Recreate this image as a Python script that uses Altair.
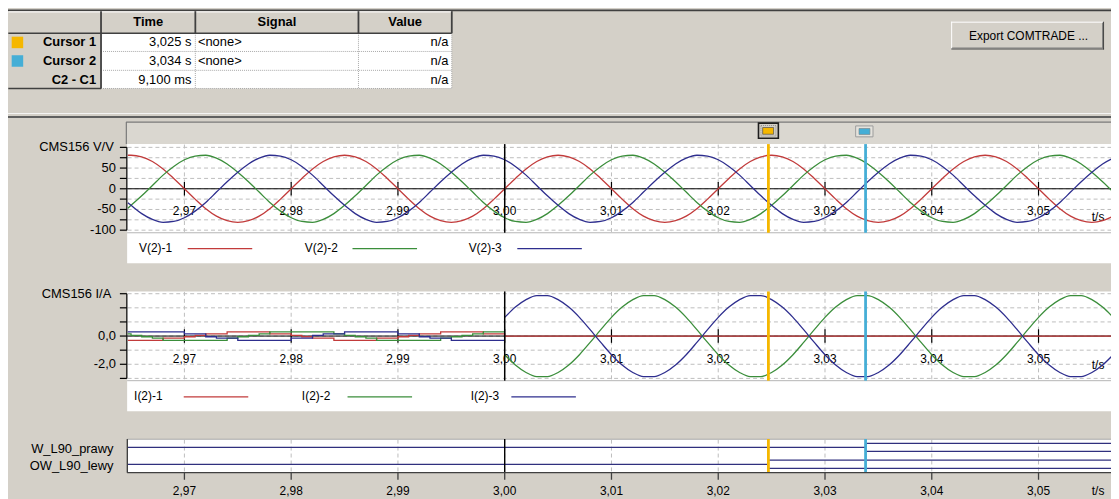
import altair as alt
import pandas as pd

# ------------------------------------------------------------------ data
ROW_NAMES = ["Cursor 1", "Cursor 2", "C2 - C1"]
COL_HEADERS = ["Time", "Signal", "Value"]
TIME_COL = ["3,025 s", "3,034 s", "9,100 ms"]
SIGNAL_COL = ["<none>", "<none>", ""]
VALUE_COL = ["n/a", "n/a", "n/a"]
BUTTON_TEXT = "Export COMTRADE ..."

CURSOR_NAMES = ["Cursor 1", "Cursor 2"]
CURSOR_T = [3.0247, 3.0338]
CURSOR_COLORS = ["#f5b700", "#45aed6"]
TRIGGER_T = [3.00]

TICK_T = [2.97, 2.98, 2.99, 3.00, 3.01, 3.02, 3.03, 3.04, 3.05]
TICK_LABELS = ["2,97", "2,98", "2,99", "3,00", "3,01", "3,02", "3,03", "3,04", "3,05"]
AXIS_UNIT = "t/s"

V_TITLE = "CMS156 V/V"
V_GRID = [-100, -75, -50, -25, 0, 25, 50, 75, 100]
V_LABEL_VAL = [50, 0, -50, -100]
V_LABELS = ["50", "0", "-50", "-100"]
V_NAMES = ["V(2)-1", "V(2)-2", "V(2)-3"]

I_TITLE = "CMS156 I/A"
I_GRID = [-3, -2, -1, 0, 1, 2, 3]
I_LABEL_VAL = [0, -2]
I_LABELS = ["0,0", "-2,0"]
I_NAMES = ["I(2)-1", "I(2)-2", "I(2)-3"]

SERIES_COLORS = ["#c23b3b", "#3b8e3b", "#2e2e8e"]

# voltage samples: first one at the left edge of the view, then 1 ms steps from 2.965 s
V_EDGE_T = 2.9647
V_START_T = 2.965
STEP_T = 0.001
V1 = [81,
      81, 77, 66, 48, 25, 0, -25, -48, -66, -77, -81, -77, -66, -48, -25, 0, 25, 48, 66, 77,
      81, 77, 66, 48, 25, 0, -25, -48, -66, -77, -81, -77, -66, -48, -25, 0, 25, 48, 66, 77,
      81, 77, 66, 48, 25, 0, -25, -48, -66, -77, -81, -77, -66, -48, -25, 0, 25, 48, 66, 77,
      81, 77, 66, 48, 25, 0, -25, -48, -66, -77, -81, -77, -66, -48, -25, 0, 25, 48, 66, 77,
      81, 77, 66, 48, 25, 0, -25, -48, -66, -77, -81, -77, -66]
V2 = [-47,
      -40, -17, 8, 33, 54, 70, 79, 81, 74, 60, 40, 17, -8, -33, -54, -70, -79, -81, -74, -60,
      -40, -17, 8, 33, 54, 70, 79, 81, 74, 60, 40, 17, -8, -33, -54, -70, -79, -81, -74, -60,
      -40, -17, 8, 33, 54, 70, 79, 81, 74, 60, 40, 17, -8, -33, -54, -70, -79, -81, -74, -60,
      -40, -17, 8, 33, 54, 70, 79, 81, 74, 60, 40, 17, -8, -33, -54, -70, -79, -81, -74, -60,
      -40, -17, 8, 33, 54, 70, 79, 81, 74, 60, 40, 17, -8]
V3 = [-34,
      -40, -60, -74, -81, -79, -70, -54, -33, -8, 17, 40, 60, 74, 81, 79, 70, 54, 33, 8, -17,
      -40, -60, -74, -81, -79, -70, -54, -33, -8, 17, 40, 60, 74, 81, 79, 70, 54, 33, 8, -17,
      -40, -60, -74, -81, -79, -70, -54, -33, -8, 17, 40, 60, 74, 81, 79, 70, 54, 33, 8, -17,
      -40, -60, -74, -81, -79, -70, -54, -33, -8, 17, 40, 60, 74, 81, 79, 70, 54, 33, 8, -17,
      -40, -60, -74, -81, -79, -70, -54, -33, -8, 17, 40, 60, 74]

# current before the fault (small stepped noise), edge sample then 1 ms steps to 3.000 s
I_PRE_START_T = 2.965
I1_PRE = [-0.3,
          -0.3, -0.3, -0.3, -0.15, -0.15, -0.05, 0.05, 0.15, 0.15, 0.3, 0.3, 0.3, 0.3, 0.15, 0.15,
          0.05, -0.05, -0.15, -0.15, -0.3, -0.3, -0.3, -0.3, -0.15, -0.15, -0.05, 0.05, 0.15, 0.15,
          0.3, 0.3, 0.3, 0.3, 0.15, 0.15, 0.05]
I2_PRE = [0.15,
          0.05, -0.05, -0.15, -0.3, -0.3, -0.3, -0.3, -0.3, -0.3, -0.15, -0.05, 0.05, 0.15, 0.3, 0.3,
          0.3, 0.3, 0.3, 0.3, 0.15, 0.05, -0.05, -0.15, -0.3, -0.3, -0.3, -0.3, -0.3, -0.3, -0.15,
          -0.05, 0.05, 0.15, 0.3, 0.3, 0.3]
I3_PRE = [0.3,
          0.3, 0.3, 0.3, 0.3, 0.3, 0.15, 0.15, -0.05, -0.15, -0.15, -0.3, -0.3, -0.3, -0.3, -0.3,
          -0.15, -0.15, 0.05, 0.15, 0.15, 0.3, 0.3, 0.3, 0.3, 0.3, 0.15, 0.15, -0.05, -0.15, -0.15,
          -0.3, -0.3, -0.3, -0.3, -0.3, -0.3]
# current after 3.000 s, 1 ms steps
I_POST_START_T = 3.000
I1_POST_T = [3.000, 3.057]
I1_POST = [0.0, 0.0]
I3_POST = [1.32, 2.05, 2.58, 2.87, 2.87, 2.58, 2.05, 1.32, 0.45, -0.45,
           -1.32, -2.05, -2.58, -2.87, -2.87, -2.58, -2.05, -1.32, -0.45, 0.45,
           1.32, 2.05, 2.58, 2.87, 2.87, 2.58, 2.05, 1.32, 0.45, -0.45,
           -1.32, -2.05, -2.58, -2.87, -2.87, -2.58, -2.05, -1.32, -0.45, 0.45,
           1.32, 2.05, 2.58, 2.87, 2.87, 2.58, 2.05, 1.32, 0.45, -0.45,
           -1.32, -2.05, -2.58, -2.87, -2.87, -2.58, -2.05, -1.32]
I2_POST = [-1.32, -2.05, -2.58, -2.87, -2.87, -2.58, -2.05, -1.32, -0.45, 0.45,
           1.32, 2.05, 2.58, 2.87, 2.87, 2.58, 2.05, 1.32, 0.45, -0.45,
           -1.32, -2.05, -2.58, -2.87, -2.87, -2.58, -2.05, -1.32, -0.45, 0.45,
           1.32, 2.05, 2.58, 2.87, 2.87, 2.58, 2.05, 1.32, 0.45, -0.45,
           -1.32, -2.05, -2.58, -2.87, -2.87, -2.58, -2.05, -1.32, -0.45, 0.45,
           1.32, 2.05, 2.58, 2.87, 2.87, 2.58, 2.05, 1.32]

DIG_NAMES = ["W_L90_prawy", "OW_L90_lewy"]
DIG_ROW = [1, 0]
DIG_CHANGE_T = [3.0338, 3.0247]
VIEW_START_T = 2.9647
VIEW_END_T = 3.057

# ------------------------------------------------------------------ layout (screen px)
OX, OY = 8, 8
W_CH, H_CH = 1111, 491
FONT = "Liberation Sans"
BG = "#d4d0c8"
DARK = "#404040"
GRID = "#bdbdbd"
NAVY = "#30307e"
HEADER_X = [149.2, 278.9, 408.0]


def px(v):
    return v - OX


def py(v):
    return v - OY


ONE = pd.DataFrame({"k": [0]})


def box(x1, y1, x2, y2, fill, **kw):
    return alt.Chart(ONE).mark_rect(fill=fill, **kw).encode(
        x=alt.value(px(x1)), x2=alt.value(px(x2)), y=alt.value(py(y1)), y2=alt.value(py(y2)))


def hline(x1, x2, y, color, width=1.0, **kw):
    return alt.Chart(ONE).mark_rule(color=color, strokeWidth=width, **kw).encode(
        x=alt.value(px(x1)), x2=alt.value(px(x2)), y=alt.value(py(y)))


def vline(x, y1, y2, color, width=1.0, **kw):
    return alt.Chart(ONE).mark_rule(color=color, strokeWidth=width, **kw).encode(
        x=alt.value(px(x)), y=alt.value(py(y1)), y2=alt.value(py(y2)))


def label(x, y, text, size=13, align="left", weight="normal"):
    return alt.Chart(ONE).mark_text(text=text, font=FONT, fontSize=size, align=align,
                                    baseline="middle", fontWeight=weight, color="#000000").encode(
        x=alt.value(px(x)), y=alt.value(py(y)))


def times(edge, start, n):
    return [edge] + [round(start + k * STEP_T, 4) for k in range(n)]


TS = alt.Scale(domain=[2.97, 3.05], range=[px(185.7), px(1046.0)], nice=False, zero=False)
VS = alt.Scale(domain=[-100, 100], range=[py(230.0), py(146.6)], nice=False, zero=False)
IS = alt.Scale(domain=[-3, 3], range=[py(379.3), py(294.0)], nice=False, zero=False)
DS = alt.Scale(domain=[0, 1], range=[py(465.8), py(448.8)], nice=False, zero=False)

XT = alt.X("t:Q", scale=TS, axis=None)

ticks_df = pd.DataFrame({"t": TICK_T, "lab": TICK_LABELS, "z": [0] * len(TICK_T)})
trig_df = pd.DataFrame({"t": TRIGGER_T})
cur_df = pd.DataFrame({"t": CURSOR_T, "c": CURSOR_NAMES})
CUR_COLOR = alt.Color("c:N", scale=alt.Scale(domain=CURSOR_NAMES, range=CURSOR_COLORS), legend=None)

layers = []

# ------------------------------------------------------------------ top table area
layers += [
    hline(8, 1119, 8.6, DARK, 1.6),
    box(8.3, 9.4, 455, 31.7, BG),
    hline(8.3, 455, 10.2, "#ffffff", 1),
    box(8.3, 31.7, 101.7, 87.3, BG),
    box(101.7, 31.7, 455, 87.3, "#ffffff"),
]
for yy in [50.0, 69.0, 87.3]:
    layers.append(hline(101.7, 455, yy, "#a8a8a8", 1, strokeDash=[1, 1]))
for xx in [196.7, 361.0]:
    layers.append(vline(xx, 31.7, 87.3, "#a8a8a8", 1, strokeDash=[1, 1]))
for xx in [101.7, 196.7, 361.0, 455.0]:
    layers.append(vline(xx, 9.4, 31.7, DARK, 1.8))
layers += [
    vline(101.7, 31.7, 87.3, DARK, 1.8),
    vline(455, 31.7, 87.3, "#a8a8a8", 1, strokeDash=[1, 1]),
    hline(8.3, 455, 31.7, DARK, 1.6),
    hline(8.3, 101.7, 87.3, DARK, 1.6),
]

hdr_df = pd.DataFrame({"h": COL_HEADERS, "hx": [px(v) for v in HEADER_X]})
layers.append(alt.Chart(hdr_df).mark_text(font=FONT, fontSize=13, fontWeight="bold",
                                          baseline="middle", align="center").encode(
    x=alt.X("hx:Q", scale=None, axis=None), y=alt.value(py(20.7)), text="h:N"))

row_df = pd.DataFrame({"r": [0, 1, 2], "name": ROW_NAMES, "time": TIME_COL,
                       "sig": SIGNAL_COL, "val": VALUE_COL})
RY = alt.Y("r:Q", scale=alt.Scale(domain=[0, 2], range=[py(40.9), py(78.3)], nice=False, zero=False), axis=None)
for field, xx, align, weight in [("name", 96.7, "right", "bold"), ("time", 192.7, "right", "normal"),
                                 ("sig", 199.3, "left", "normal"), ("val", 451.7, "right", "normal")]:
    layers.append(alt.Chart(row_df).mark_text(font=FONT, fontSize=13, fontWeight=weight,
                                              baseline="middle", align=align).encode(
        x=alt.value(px(xx)), y=RY, text=f"{field}:N"))

sq_df = pd.DataFrame({"r": [0, 1], "c": CURSOR_NAMES})
layers.append(alt.Chart(sq_df).mark_rect(yOffset=-5.8, y2Offset=5.8).encode(
    x=alt.value(px(11.7)), x2=alt.value(px(23.3)), y=RY, y2="r:Q", color=CUR_COLOR))

# button
layers += [
    box(958, 20, 1112, 48, BG),
    hline(958, 1112, 20.5, "#ffffff", 1),
    vline(958.5, 20, 48, "#ffffff", 1),
    hline(958, 1112, 47.5, DARK, 1),
    vline(1111.5, 20, 48, DARK, 1),
    hline(959, 1111, 46.5, "#808080", 1),
    vline(1110.5, 21, 47, "#808080", 1),
    label(1036, 34, BUTTON_TEXT, 12, "center"),
]

# splitter
layers += [hline(8, 1119, 112.5, "#f4f4f4", 1), hline(8, 1119, 116, "#606060", 2)]

# cursor strip
layers += [
    box(127, 121, 1119, 143.3, "#dad7d0"),
    hline(127, 1119, 121.2, "#7a7a7a", 1.4),
    vline(127.2, 121, 143.3, "#7a7a7a", 1.2),
]
c1 = cur_df.iloc[[0]]
c2 = cur_df.iloc[[1]]
layers += [
    alt.Chart(c1).mark_rect(fill=BG, stroke="#1e1e1e", strokeWidth=1.6, xOffset=-10, x2Offset=10).encode(
        x=XT, x2="t:Q", y=alt.value(py(122.2)), y2=alt.value(py(137.4))),
    alt.Chart(c1).mark_rect(fill="none", stroke="#7a7a7a", strokeWidth=0.8, strokeDash=[1, 1],
                            xOffset=-7.5, x2Offset=7.5).encode(
        x=XT, x2="t:Q", y=alt.value(py(124.6)), y2=alt.value(py(135.2))),
    alt.Chart(c1).mark_rect(stroke="#505050", strokeWidth=0.7, xOffset=-5.8, x2Offset=5.2).encode(
        x=XT, x2="t:Q", y=alt.value(py(126.6)), y2=alt.value(py(133.4)), color=CUR_COLOR),
    alt.Chart(c2).mark_rect(fill="#e4e2dc", stroke="#9c9c9c", strokeWidth=1, xOffset=-10, x2Offset=7.5).encode(
        x=XT, x2="t:Q", y=alt.value(py(125.0)), y2=alt.value(py(136.0))),
    alt.Chart(c2).mark_rect(stroke="#7a8a90", strokeWidth=0.7, xOffset=-6.6, x2Offset=4.4).encode(
        x=XT, x2="t:Q", y=alt.value(py(127.6)), y2=alt.value(py(133.6)), color=CUR_COLOR),
]


# ------------------------------------------------------------------ analog panels
def analog_panel(ys, grid, lab_val, labs, title, top, bottom, leg_bottom, zero_axis_y,
                 label_dy, legend_names, legend_text_x, legend_line_x, legend_y, unit_y, traces):
    out = []
    out.append(box(128, top, 1119, leg_bottom, "#ffffff"))
    out.append(hline(128, 1119, bottom, "#b4b4b4", 1))
    # grid
    out.append(alt.Chart(ticks_df).mark_rule(color=GRID, strokeWidth=1, strokeDash=[4, 3]).encode(
        x=XT, y=alt.value(py(top + 0.5)), y2=alt.value(py(bottom - 0.5))))
    gdf = pd.DataFrame({"g": grid})
    out.append(alt.Chart(gdf).mark_rule(color=GRID, strokeWidth=1, strokeDash=[4, 3]).encode(
        y=alt.Y("g:Q", scale=ys, axis=None), x=alt.value(px(128.5)), x2=alt.value(W_CH)))
    # y axis
    adf = pd.DataFrame({"lo": [min(grid)], "hi": [max(grid)]})
    out.append(alt.Chart(adf).mark_rule(color="#000000", strokeWidth=1.2).encode(
        x=alt.value(px(127.7)), y=alt.Y("lo:Q", scale=ys, axis=None), y2="hi:Q"))
    out.append(alt.Chart(gdf).mark_rule(color="#000000", strokeWidth=1.2).encode(
        y=alt.Y("g:Q", scale=ys, axis=None), x=alt.value(px(120.7)), x2=alt.value(px(127.7))))
    ldf = pd.DataFrame({"g": lab_val, "lab": labs})
    out.append(alt.Chart(ldf).mark_text(font=FONT, fontSize=13, align="right", baseline="middle").encode(
        y=alt.Y("g:Q", scale=ys, axis=None), x=alt.value(px(116.7)), text="lab:N"))
    out.append(label(77, zero_axis_y, title, 13, "center"))
    # time axis along zero
    out.append(alt.Chart(ticks_df).mark_rule(color="#000000", strokeWidth=1).encode(
        y=alt.Y("z:Q", scale=ys, axis=None), x=alt.value(px(128)), x2=alt.value(W_CH)).transform_filter("datum.t == 3.0"))
    out.append(alt.Chart(ticks_df).mark_rule(color="#000000", strokeWidth=1.2, yOffset=-6.8, y2Offset=6.8).encode(
        x=XT, y=alt.Y("z:Q", scale=ys, axis=None), y2="z:Q"))
    out.append(alt.Chart(ticks_df).mark_text(font=FONT, fontSize=12, align="center", baseline="middle",
                                             dy=label_dy).encode(
        x=XT, y=alt.Y("z:Q", scale=ys, axis=None), text="lab:N"))
    out.append(label(1106, unit_y, AXIS_UNIT, 12, "center"))
    # traces
    out += traces
    # trigger and cursors
    out.append(alt.Chart(trig_df).mark_rule(color="#000000", strokeWidth=1.5).encode(
        x=XT, y=alt.value(py(top)), y2=alt.value(py(bottom))))
    out.append(alt.Chart(cur_df).mark_rule(strokeWidth=2.8).encode(
        x=XT, y=alt.value(py(top)), y2=alt.value(py(bottom)), color=CUR_COLOR))
    # legend
    legdf = pd.DataFrame({"n": legend_names, "tx": legend_text_x, "lx": legend_line_x,
                          "col": SERIES_COLORS})
    out.append(alt.Chart(legdf).mark_text(font=FONT, fontSize=12, align="left", baseline="middle").encode(
        x=alt.X("tx:Q", scale=None, axis=None), y=alt.value(py(legend_y)), text="n:N"))
    out.append(alt.Chart(legdf).mark_rule(strokeWidth=1.3, x2Offset=65).encode(
        x=alt.X("lx:Q", scale=None, axis=None), x2="lx:Q", y=alt.value(py(legend_y + 1)),
        color=alt.Color("col:N", scale=None)))
    return out


# voltage traces
V_T = times(V_EDGE_T, V_START_T, len(V1) - 1)
vdf = pd.DataFrame({"t": V_T * 3, "v": V1 + V2 + V3,
                    "s": [V_NAMES[0]] * len(V1) + [V_NAMES[1]] * len(V2) + [V_NAMES[2]] * len(V3)})
v_trace = alt.Chart(vdf).mark_line(interpolate="monotone", strokeWidth=1.3).encode(
    x=XT, y=alt.Y("v:Q", scale=VS, axis=None),
    color=alt.Color("s:N", scale=alt.Scale(domain=V_NAMES, range=SERIES_COLORS), legend=None),
    order=alt.Order("t:Q"))

I_PRE_T = times(VIEW_START_T, I_PRE_START_T, len(I1_PRE) - 1)
ipre = pd.DataFrame({"t": I_PRE_T * 3, "v": I1_PRE + I2_PRE + I3_PRE,
                     "s": [I_NAMES[0]] * len(I1_PRE) + [I_NAMES[1]] * len(I2_PRE) + [I_NAMES[2]] * len(I3_PRE)})
I_POST_T = [round(I_POST_START_T + k * STEP_T, 4) for k in range(len(I3_POST))]
ipost = pd.DataFrame({"t": I1_POST_T + I_POST_T * 2, "v": I1_POST + I2_POST + I3_POST,
                      "s": [I_NAMES[0]] * len(I1_POST) + [I_NAMES[1]] * len(I2_POST) + [I_NAMES[2]] * len(I3_POST)})
ICOL = alt.Color("s:N", scale=alt.Scale(domain=I_NAMES, range=SERIES_COLORS), legend=None)
i_traces = [
    alt.Chart(ipre).mark_line(interpolate="step-after", strokeWidth=1.3).encode(
        x=XT, y=alt.Y("v:Q", scale=IS, axis=None), color=ICOL, order=alt.Order("t:Q")),
    alt.Chart(ipost).mark_line(interpolate="monotone", strokeWidth=1.3).encode(
        x=XT, y=alt.Y("v:Q", scale=IS, axis=None), color=ICOL, order=alt.Order("t:Q")),
]

layers += analog_panel(VS, V_GRID, V_LABEL_VAL, V_LABELS, V_TITLE, 143.3, 232.6, 263.3, 146.7,
                       22, V_NAMES, [px(140), px(307), px(472)], [px(189), px(355), px(521)], 247.5,
                       217, [v_trace])
layers += analog_panel(IS, I_GRID, I_LABEL_VAL, I_LABELS, I_TITLE, 291.7, 381.6, 412.5, 294.6,
                       23.5, I_NAMES, [px(135), px(304), px(474)], [px(185), px(350), px(515)], 397,
                       366, i_traces)

# ------------------------------------------------------------------ digital panel
layers += [
    box(128, 440.4, 1119, 474.3, "#ffffff"),
    hline(128, 1119, 440.6, "#a8a8a8", 1),
]
layers.append(alt.Chart(ticks_df).mark_rule(color=GRID, strokeWidth=1, strokeDash=[4, 3]).encode(
    x=XT, y=alt.value(py(441)), y2=alt.value(py(474))))
dig_df = pd.DataFrame({"n": DIG_NAMES, "row": DIG_ROW, "tc": DIG_CHANGE_T,
                       "t0": [VIEW_START_T] * 2, "t1": [VIEW_END_T] * 2})
DY = alt.Y("row:Q", scale=DS, axis=None)
layers += [
    alt.Chart(dig_df).mark_rule(color=NAVY, strokeWidth=1.3).encode(
        x=alt.X("t0:Q", scale=TS, axis=None), x2="tc:Q", y=DY),
    alt.Chart(dig_df).mark_rule(color=NAVY, strokeWidth=1.3, yOffset=-4.1).encode(
        x=alt.X("tc:Q", scale=TS, axis=None), x2="t1:Q", y=DY),
    alt.Chart(dig_df).mark_rule(color=NAVY, strokeWidth=1.3, yOffset=4.1).encode(
        x=alt.X("tc:Q", scale=TS, axis=None), x2="t1:Q", y=DY),
    alt.Chart(dig_df).mark_rule(color=NAVY, strokeWidth=1.3, yOffset=-4.1, y2Offset=4.1).encode(
        x=alt.X("tc:Q", scale=TS, axis=None), y=DY, y2="row:Q"),
    alt.Chart(dig_df).mark_text(font=FONT, fontSize=13, align="right", baseline="middle", dy=1.8).encode(
        x=alt.value(px(114.3)), y=DY, text="n:N"),
    alt.Chart(trig_df).mark_rule(color="#000000", strokeWidth=1.4).encode(
        x=XT, y=alt.value(py(440.4)), y2=alt.value(py(474.3))),
    alt.Chart(cur_df).mark_rule(strokeWidth=2.8).encode(
        x=XT, y=alt.value(py(440.4)), y2=alt.value(py(474.3)), color=CUR_COLOR),
    vline(128.2, 440.4, 474.3, DARK, 1.4),
    hline(128, 1119, 474.2, DARK, 1.4),
    alt.Chart(ticks_df).mark_rule(color=DARK, strokeWidth=1.3).encode(
        x=XT, y=alt.value(py(474.3)), y2=alt.value(py(481.4))),
    alt.Chart(ticks_df).mark_text(font=FONT, fontSize=12, align="center", baseline="middle").encode(
        x=XT, y=alt.value(py(493.0)), text="lab:N"),
    label(1106, 492.5, AXIS_UNIT, 12, "center"),
]

chart = alt.layer(*layers).resolve_scale(
    x="independent", y="independent", color="independent"
).properties(
    width=W_CH, height=H_CH, background=BG, padding=0,
    autosize=alt.AutoSizeParams(type="none"),
).configure_view(strokeWidth=0)

chart.save("out.html", embed_options={"renderer": "svg", "actions": False})
